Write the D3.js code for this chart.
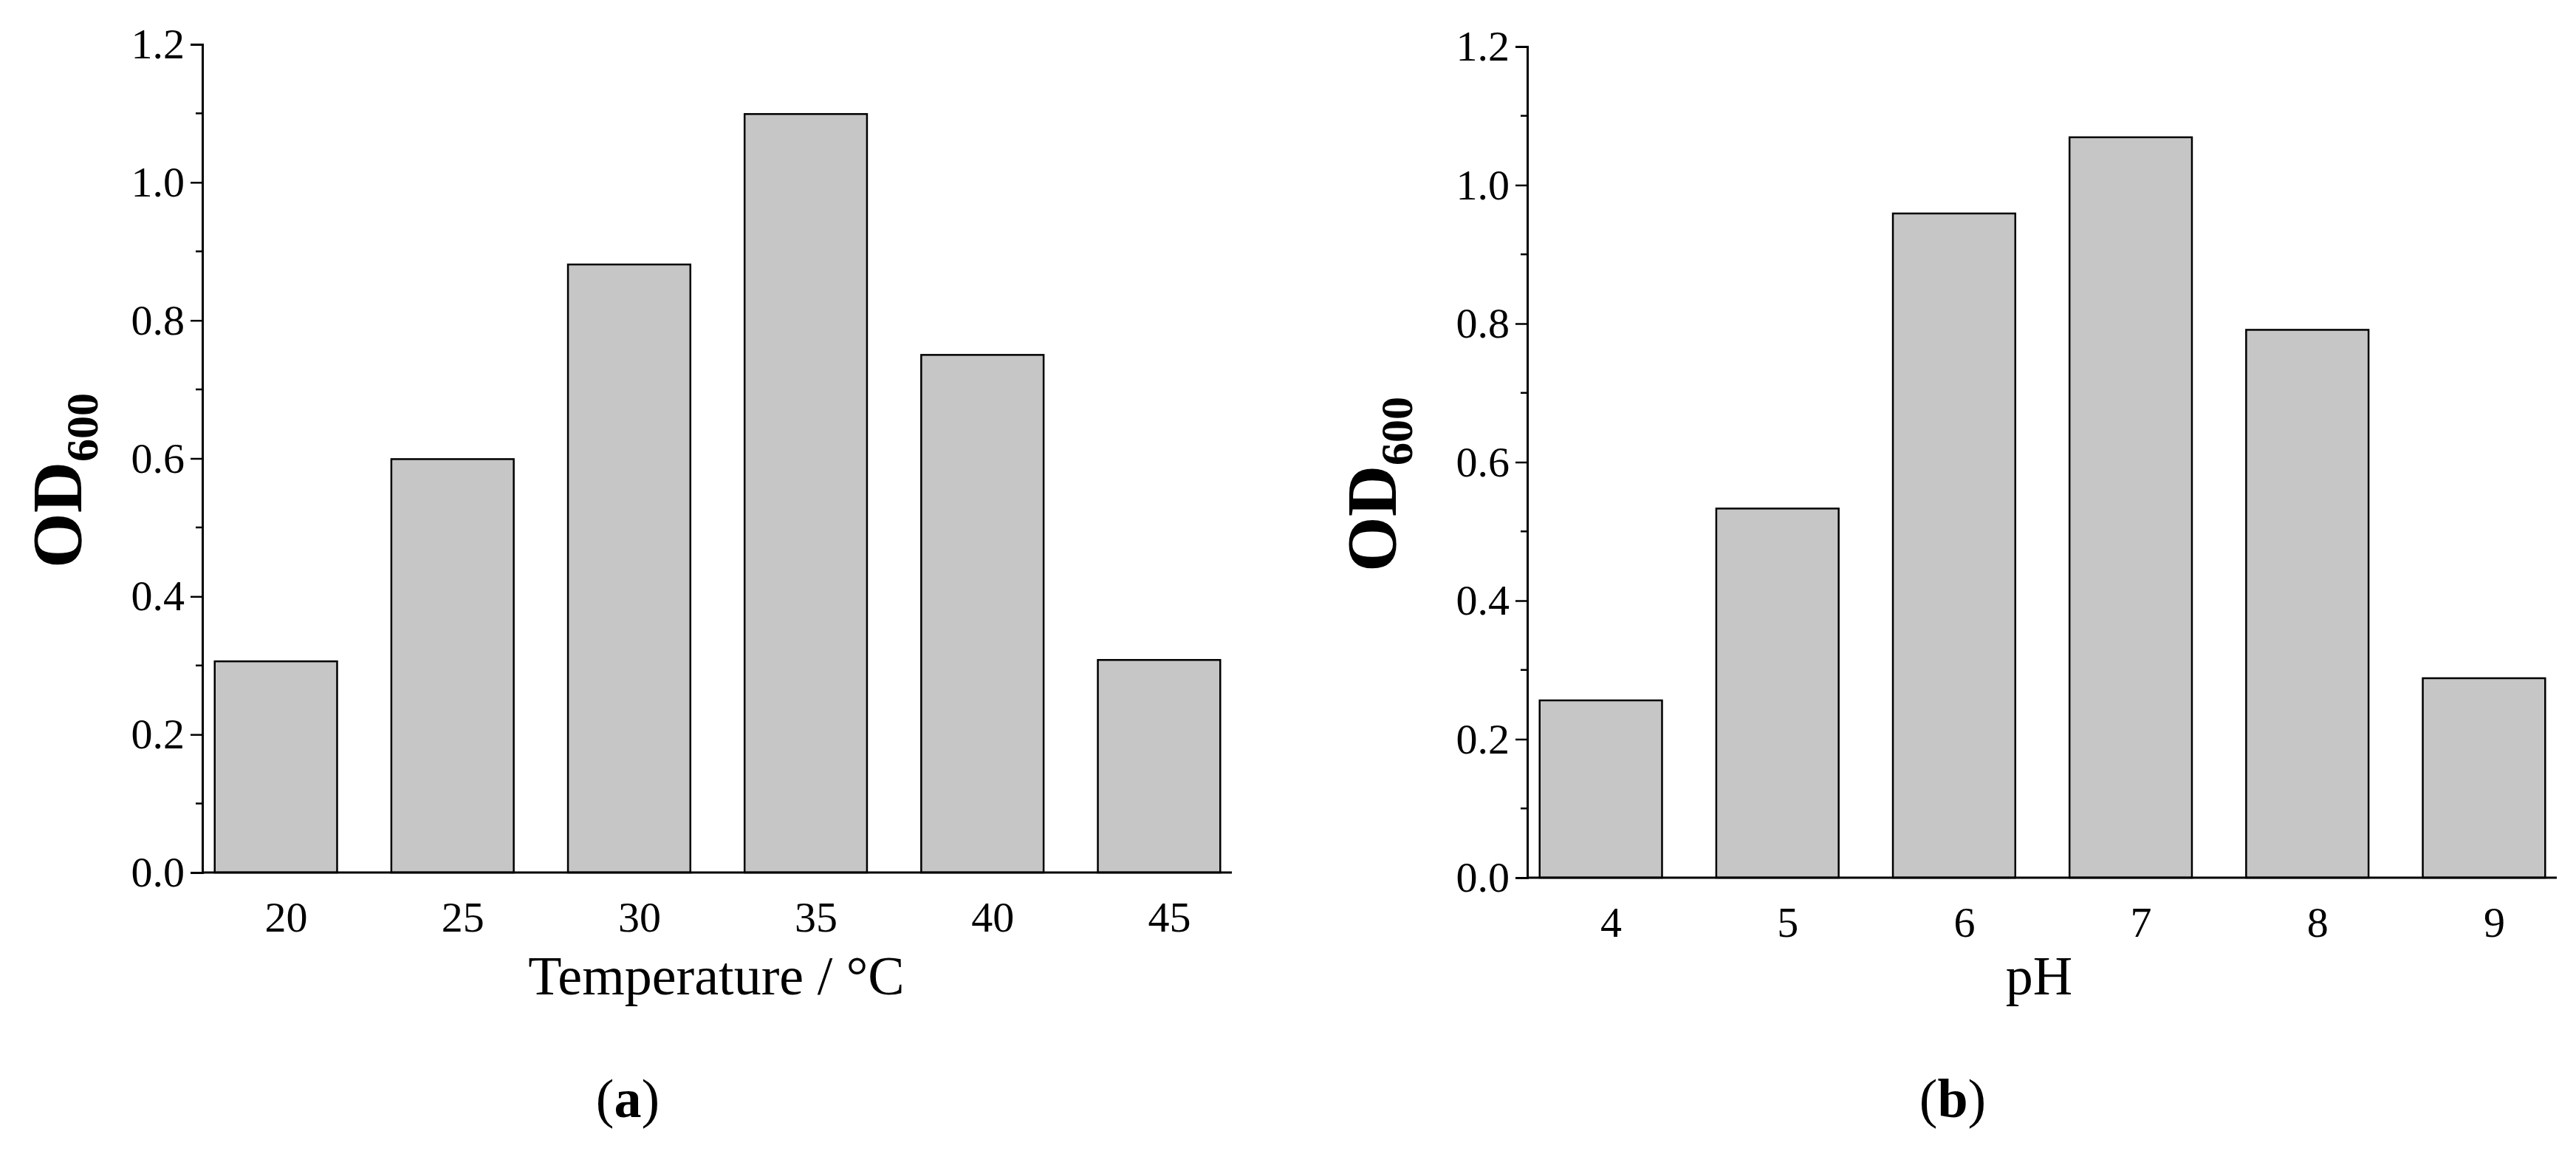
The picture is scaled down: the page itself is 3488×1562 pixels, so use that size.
<!DOCTYPE html>
<html><head><meta charset="utf-8">
<script src="https://cdn.jsdelivr.net/npm/d3@7"></script>
<style>body{margin:0;background:#fff}svg{display:block}</style></head>
<body><svg id="c" width="3488" height="1562"></svg>
<script>
const tempCategories = ["20","25","30","35","40","45"];
const tempValues = [0.306, 0.599, 0.881, 1.099, 0.750, 0.308];
const phCategories = ["4","5","6","7","8","9"];
const phValues = [0.256, 0.533, 0.959, 1.069, 0.791, 0.288];
const yTicks = [0.0, 0.2, 0.4, 0.6, 0.8, 1.0, 1.2];

const svg = d3.select("#c");
const font = "'Liberation Serif','Times New Roman',serif";

function panel(o){
  const g = svg.append("g");
  const y = d3.scaleLinear().domain([0,1.2]).range([o.bottom,o.top]);
  const x = d3.scaleBand().domain(o.cats).range([o.left, o.left + 6*232.5]).paddingInner(0.307).paddingOuter(0.07/0.5*0.5);
  // bars
  g.selectAll("rect.bar").data(o.vals).join("rect")
    .attr("x",(d,i)=>x(o.cats[i])).attr("width",x.bandwidth())
    .attr("y",d=>y(d)).attr("height",d=>y(0)-y(d))
    .attr("fill","#c6c6c6").attr("stroke","#000").attr("stroke-width",2.5);
  // y axis
  const ya = d3.axisLeft(y).tickValues(yTicks).tickFormat(d3.format(".1f")).tickSize(16).tickPadding(8);
  const yg = g.append("g").attr("transform",`translate(${o.axisX},0)`).call(ya);
  yg.select(".domain").attr("stroke-width",3);
  yg.selectAll(".tick line").attr("stroke-width",2.5);
  yg.selectAll("text").attr("font-family",font).attr("font-size",58).attr("fill","#000");
  const minor = d3.range(0.1,1.2,0.2);
  g.selectAll("line.minor").data(minor).join("line")
    .attr("x1",o.axisX-9).attr("x2",o.axisX).attr("y1",d=>y(d)).attr("y2",d=>y(d))
    .attr("stroke","#000").attr("stroke-width",2.5);
  // x axis line
  g.append("line").attr("x1",o.axisX).attr("x2",o.xEnd).attr("y1",y(0)).attr("y2",y(0))
    .attr("stroke","#000").attr("stroke-width",3);
  // x labels
  g.selectAll("text.xl").data(o.cats).join("text")
    .attr("x",d=>x(d)+x.bandwidth()/2+14).attr("y",y(0)+80)
    .attr("text-anchor","middle").attr("font-family",font).attr("font-size",58).text(d=>d);
  g.append("text").attr("x",o.titleX).attr("y",1346).attr("text-anchor","middle")
    .attr("font-family",font).attr("font-size",74).text(o.title);
  const yl = g.append("text").attr("transform",`translate(${o.ylX},${(o.top+o.bottom)/2+30}) rotate(-90)`)
    .attr("text-anchor","middle").attr("font-family",font).attr("font-weight","bold").attr("font-size",96);
  yl.append("tspan").text("OD");
  yl.append("tspan").attr("font-size",62).attr("dy",22).text("600");
  const cap = g.append("text").attr("x",o.capX).attr("y",1512).attr("text-anchor","middle")
    .attr("font-family",font).attr("font-size",74);
  cap.append("tspan").text("(");
  cap.append("tspan").attr("font-weight","bold").text(o.cap);
  cap.append("tspan").text(")");
}

panel({cats:tempCategories, vals:tempValues, axisX:274, left:274, top:60, bottom:1181, xEnd:1668,
  title:"Temperature / °C", titleX:970, ylX:110, capX:850, cap:"a"});
panel({cats:phCategories, vals:phValues, axisX:2068, left:2068, top:63, bottom:1188, xEnd:3462,
  title:"pH", titleX:2761, ylX:1890, capX:2644, cap:"b"});
</script></body></html>
